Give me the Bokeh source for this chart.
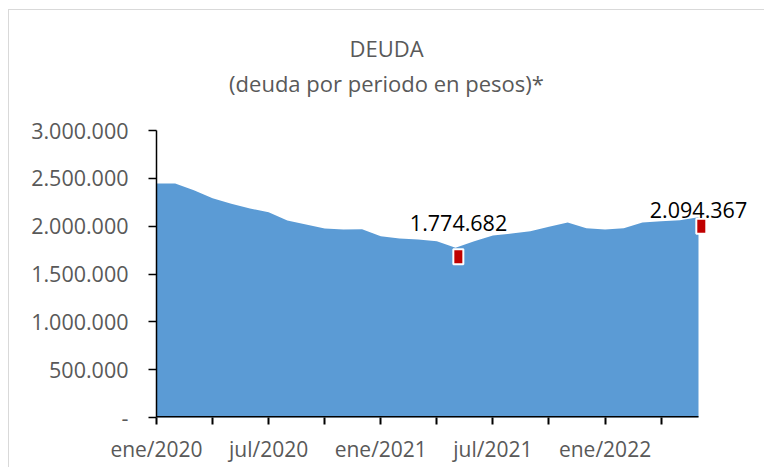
from bokeh.plotting import figure
from bokeh.models import FixedTicker, Label, ColumnDataSource, Arrow, Range1d, Div
from bokeh.layouts import column
from bokeh.transform import dodge
from bokeh.embed import file_html
from bokeh.resources import INLINE

# ---- data (monthly debt, ene/2020 .. jun/2022) ----
deuda = [2446000, 2446000, 2376000, 2292000, 2234000, 2185000, 2146000, 2059000,
         2017000, 1976000, 1965000, 1968000, 1895000, 1871000, 1861000, 1843000,
         1774682, 1843000, 1902000, 1923000, 1947000, 1993000, 2038000, 1979000,
         1965000, 1979000, 2038000, 2052000, 2062000, 2094367]
x_ticks = [0, 3, 6, 9, 12, 15, 18, 21, 24, 27]
x_tick_labels = ["ene/2020", "", "jul/2020", "", "ene/2021", "", "jul/2021", "", "ene/2022", ""]
y_ticks = [0, 500000, 1000000, 1500000, 2000000, 2500000, 3000000]
y_tick_labels = ["-", "500.000", "1.000.000", "1.500.000", "2.000.000", "2.500.000", "3.000.000"]
destacados = [16, 29]  # minimum and last value
titulo = "DEUDA"
subtitulo = "(deuda por periodo en pesos)*"

FONT = "Open Sans"
GRAY = "#595959"

meses = list(range(len(deuda)))
src = ColumnDataSource(dict(x=meses, y=deuda))
src_d = ColumnDataSource(dict(x=[meses[i] for i in destacados], y=[deuda[i] for i in destacados]))

PX_PER_MONTH = 542 / 29.0
FW = 594
x_end = FW / PX_PER_MONTH

p = figure(frame_width=FW, frame_height=287,
           min_border_left=147, min_border_right=4, min_border_top=18, min_border_bottom=50,
           x_range=Range1d(0, x_end), y_range=Range1d(0, 3000000),
           output_backend="svg", toolbar_location=None)

p.varea(x="x", y1=0, y2="y", source=src, fill_color="#5B9BD5")

p.rect(x=dodge("x", 0.15, range=p.x_range), y=dodge("y", -95000, range=p.y_range),
       width=10, height=15, width_units="screen", height_units="screen",
       fill_color="#C00000", line_color="white", line_width=2, source=src_d)

# grid / outline
p.xgrid.grid_line_color = None
p.ygrid.grid_line_color = None
p.outline_line_color = None
p.background_fill_color = "white"
p.border_fill_color = "white"

# x axis (line drawn only over the data span)
xa = p.xaxis[0]
xa.ticker = FixedTicker(ticks=x_ticks)
xa.major_label_overrides = {t: l for t, l in zip(x_ticks, x_tick_labels)}
xa.axis_line_color = None
xa.major_tick_line_color = "black"
xa.major_tick_line_width = 2
xa.major_tick_out = 7
xa.major_tick_in = 0
xa.minor_tick_line_color = None
xa.major_label_standoff = 10
xa.major_label_text_font = FONT
xa.major_label_text_font_size = "21px"
xa.major_label_text_color = GRAY
p.add_layout(Arrow(end=None, start=None, x_start=0, y_start=0, x_end=len(deuda) - 1, y_end=0,
                   line_color="black", line_width=3))

# y axis
ya = p.yaxis[0]
ya.ticker = FixedTicker(ticks=y_ticks)
ya.major_label_overrides = {t: l for t, l in zip(y_ticks, y_tick_labels)}
ya.axis_line_color = "black"
ya.axis_line_width = 1.5
ya.major_tick_line_color = "black"
ya.major_tick_line_width = 1.5
ya.major_tick_out = 8
ya.major_tick_in = 0
ya.minor_tick_line_color = None
ya.major_label_standoff = 20
ya.major_label_text_font = FONT
ya.major_label_text_font_size = "21.5px"
ya.major_label_text_color = GRAY

# data labels
offs = [(3, 25), (0, 7)]
for i, (dx, dy) in zip(destacados, offs):
    lbl = f"{deuda[i]:,}".replace(",", ".")
    p.add_layout(Label(x=meses[i], y=deuda[i], x_offset=dx, y_offset=dy, text=lbl,
                       text_align="center", text_baseline="middle",
                       text_font=FONT, text_font_size="21.5px", text_color="black"))

# title
title_div = Div(text=f'<div style="height:16px"></div>{titulo}<br>{subtitulo}',
                width=745, height=92,
                styles={"text-align": "center", "font-family": FONT, "font-size": "22px",
                        "color": GRAY, "line-height": "35px"})

layout = column(title_div, p, spacing=0)
layout.styles = {"margin-left": "8px", "margin-top": "9px",
                 "border-top": "1px solid #D9D9D9", "border-left": "1px solid #D9D9D9",
                 "background-color": "white"}

open("out.html", "w").write(file_html(layout, INLINE))
